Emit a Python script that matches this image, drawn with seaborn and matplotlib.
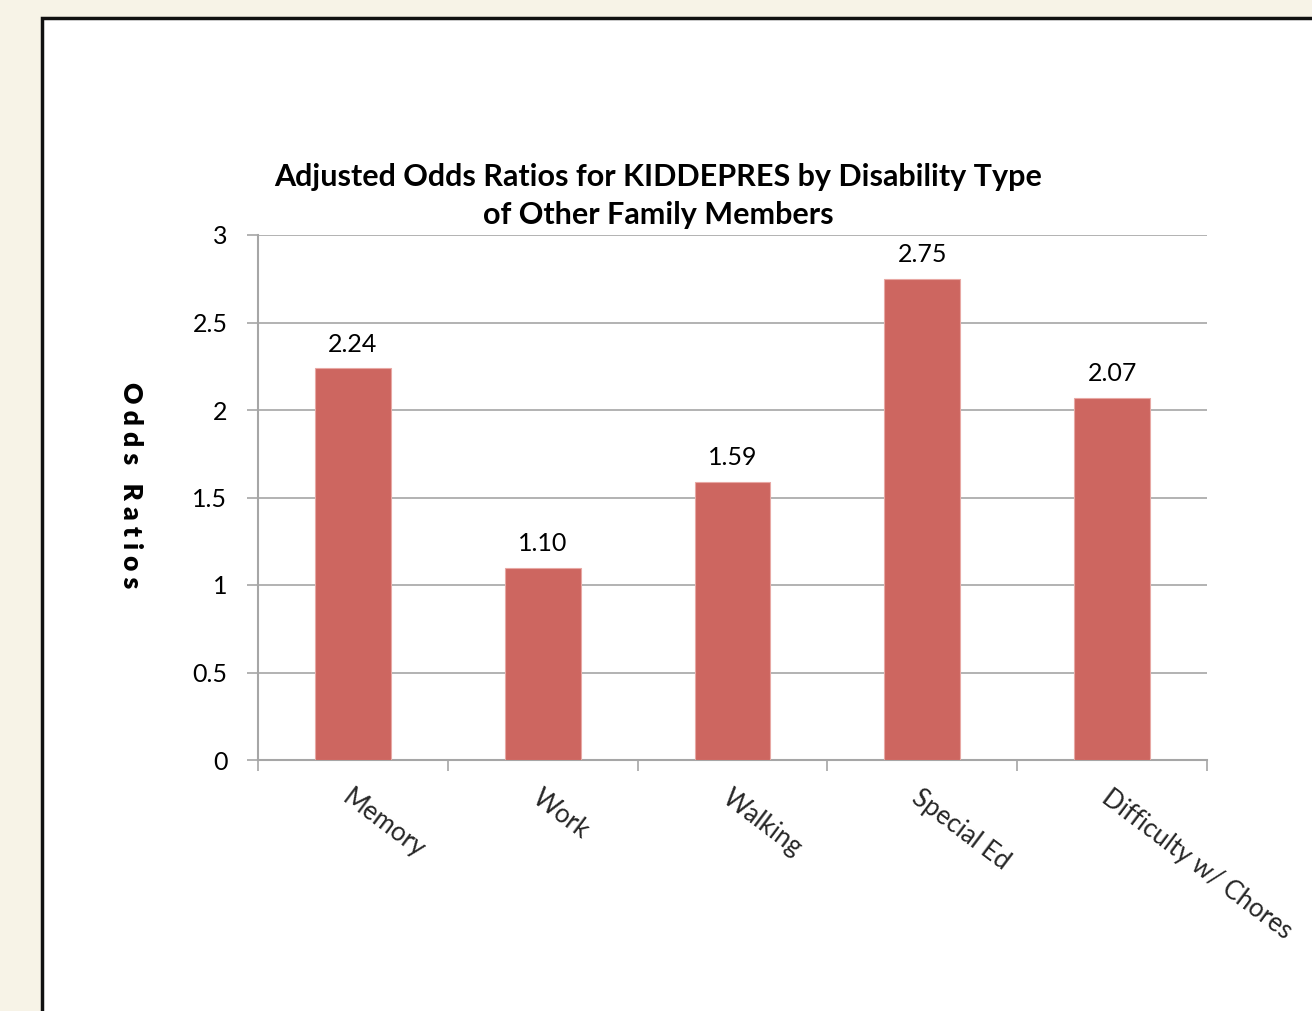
import matplotlib
matplotlib.use("Agg")
import matplotlib.pyplot as plt
import seaborn as sns
import pandas as pd
from matplotlib.patches import Rectangle
from matplotlib.ticker import FixedLocator

categories = ["Memory", "Work", "Walking", "Special Ed", "Difficulty w/ Chores"]
odds_ratios = [2.24, 1.10, 1.59, 2.75, 2.07]
value_labels = ["2.24", "1.10", "1.59", "2.75", "2.07"]
y_ticks = [0, 0.5, 1, 1.5, 2, 2.5, 3]
y_tick_labels = ["0", "0.5", "1", "1.5", "2", "2.5", "3"]

sns.set_style("white")
plt.rcParams["font.family"] = ["Lato", "DejaVu Sans"]

bar_color = "#CD6660"
grid_color = "#A6A6A6"
page_color = "#F7F3E7"

fig = plt.figure(figsize=(13.12, 10.11), dpi=100)
fig.patch.set_facecolor(page_color)

# white slide panel with a dark frame
panel = Rectangle((42 / 1312, -0.02), 1.1, 1 - 18 / 1011 + 0.02,
                  transform=fig.transFigure, facecolor="white",
                  edgecolor="#111111", linewidth=2.5, zorder=-5)
fig.patches.append(panel)

ax = fig.add_axes([258 / 1312, 1 - 760 / 1011, 949 / 1312, 525 / 1011])
ax.set_zorder(2)
ax.set_facecolor("none")

df = pd.DataFrame({"category": categories, "odds": odds_ratios})
sns.barplot(data=df, x="category", y="odds", color=bar_color,
            width=0.4, saturation=1, ax=ax, zorder=3,
            edgecolor="#E8A8A4", linewidth=0.8)

ax.set_xlim(-0.5, len(categories) - 0.5)
ax.set_ylim(0, 3)
ax.set_yticks(y_ticks)
ax.set_yticklabels(y_tick_labels)
ax.yaxis.grid(True, color=grid_color, linewidth=1.2, zorder=0)
ax.set_axisbelow(True)

for side in ["top", "right"]:
    ax.spines[side].set_visible(False)
for side in ["left", "bottom"]:
    ax.spines[side].set_color(grid_color)
    ax.spines[side].set_linewidth(1.5)

ax.tick_params(axis="y", which="major", length=8, width=1.2, color=grid_color,
               labelsize=18, pad=14, left=True, labelcolor="black")
ax.tick_params(axis="x", which="major", length=0, pad=18)
ax.xaxis.set_minor_locator(FixedLocator([i - 0.5 for i in range(len(categories) + 1)]))
ax.tick_params(axis="x", which="minor", length=8, width=1.2, color=grid_color,
               bottom=True)

ax.set_xticks(range(len(categories)))
ax.set_xticklabels(categories, rotation=-37, ha="left", va="top",
                   rotation_mode="anchor", fontsize=18.5)

ax.set_xlabel("")
ax.set_ylabel("")

for i, (v, txt) in enumerate(zip(odds_ratios, value_labels)):
    ax.annotate(txt, (i, v), xytext=(0, 9), textcoords="offset points",
                ha="center", va="bottom", fontsize=18, color="black")

fig.text(658 / 1312, 1 - 177 / 1011,
         "Adjusted Odds Ratios for KIDDEPRES by Disability Type",
         ha="center", va="center", fontsize=22, fontweight="bold", color="black")
fig.text(658 / 1312, 1 - 215 / 1011, "of Other Family Members",
         ha="center", va="center", fontsize=22, fontweight="bold", color="black")

fig.text(131 / 1312, 1 - 485 / 1011, "O d d s   R a t i o s",
         rotation=-90, ha="center", va="center", fontsize=19,
         fontweight="heavy", color="black")

fig.savefig("out.png", dpi=100, facecolor=page_color)
